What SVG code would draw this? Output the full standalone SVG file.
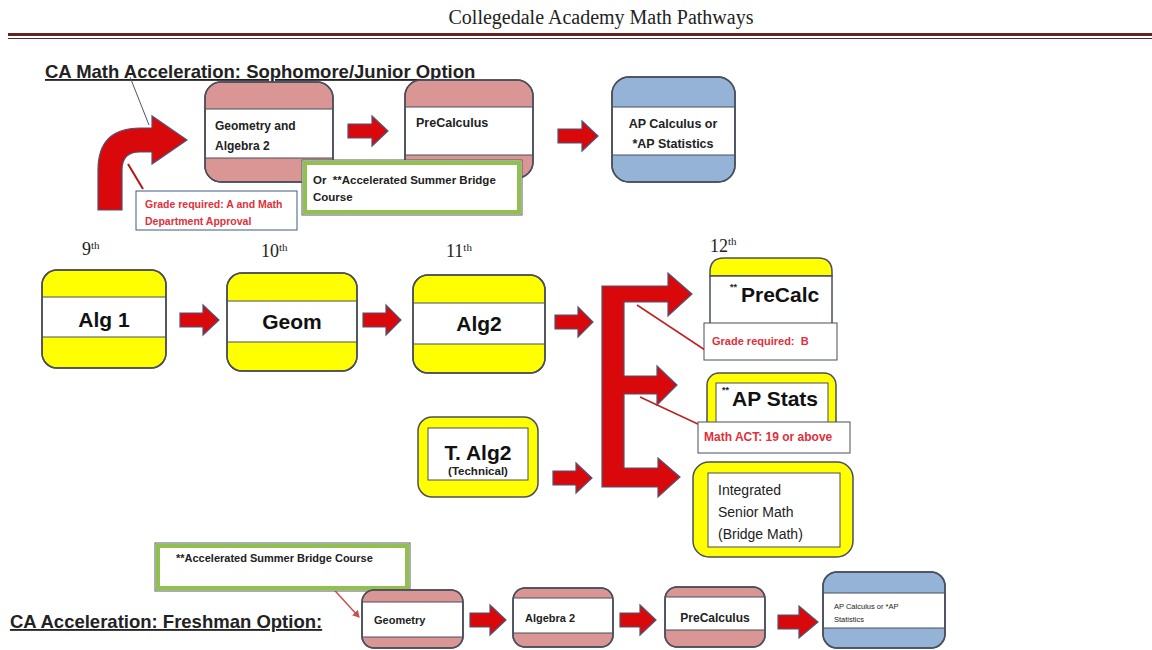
<svg xmlns="http://www.w3.org/2000/svg" width="1152" height="650" viewBox="0 0 1152 650">
<defs>
<style>
.bx{stroke:#4a4f5c;stroke-width:1.5}
.ln{stroke:#4a4f5c;stroke-width:1;fill:none}
.arr{fill:#d9090b;stroke:#4d5578;stroke-width:1.2}
.lbl{font-family:"Liberation Sans",Arial,sans-serif;font-weight:bold;fill:#222}
.big{font-family:"Liberation Sans",Arial,sans-serif;font-weight:bold;font-size:21px;fill:#111}
.red{font-family:"Liberation Sans",Arial,sans-serif;font-weight:bold;fill:#e0303a}
.grade{font-family:"Liberation Serif","Times New Roman",serif;font-size:18px;fill:#222}
.hdr{font-family:"Liberation Sans",Arial,sans-serif;font-weight:bold;font-size:18.5px;fill:#222;text-decoration:underline}
</style>
<marker id="mk" markerWidth="8" markerHeight="8" refX="6" refY="4" orient="auto" markerUnits="userSpaceOnUse"><path d="M0,0 L7,4 L0,8 Z" fill="#c85050"/></marker>
</defs>
<rect width="1152" height="650" fill="#fff"/>

<text x="601" y="24" text-anchor="middle" font-family="Liberation Serif, serif" font-size="20" fill="#222">Collegedale Academy Math Pathways</text>
<rect x="8" y="33" width="1144" height="3" fill="#622423"/>
<rect x="8" y="38" width="1144" height="1" fill="#622423"/>

<text class="hdr" x="45" y="78">CA Math Acceleration: Sophomore/Junior Option</text>
<text class="hdr" x="10" y="628">CA Acceleration: Freshman Option:</text>

<text class="grade" x="82" y="255">9<tspan font-size="11" dy="-6">th</tspan></text>
<text class="grade" x="261" y="257">10<tspan font-size="11" dy="-6">th</tspan></text>
<text class="grade" x="446" y="257">11<tspan font-size="11" dy="-6">th</tspan></text>
<text class="grade" x="710" y="252" font-size="20">12<tspan font-size="11" dy="-7">th</tspan></text>

<g id="connectors">
<path class="arr" d="M98,210 L98,170 Q98,128 140,128 L152,128 L152,116 L187,140 L152,164 L152,152 L140,152 Q122,152 122,170 L122,210 Z"/>
<polygon class="arr" points="348,124 372,124 372,116 388,131 372,146 372,138 348,138"/>
<polygon class="arr" points="558,129 582,129 582,121 598,136 582,151 582,143 558,143"/>
<polygon class="arr" points="180,313 203,313 203,305 219,320 203,335 203,327 180,327"/>
<polygon class="arr" points="363,313 386,313 386,305 401,320 386,335 386,327 363,327"/>
<polygon class="arr" points="555,315 578,315 578,307 593,322 578,337 578,329 555,329"/>
<polygon class="arr" points="553,471 576,471 576,463 592,478 576,493 576,485 553,485"/>
<path class="arr" d="M602,286 L668,286 L668,273 L692,294 L668,316 L668,302 L624,302 L624,376 L657,376 L657,366 L677,385 L657,405 L657,394 L624,394 L624,468 L658,468 L658,458 L680,477 L658,497 L658,487 L602,487 Z"/>
<polygon class="arr" points="470,613 490,613 490,605 506,620 490,635 490,627 470,627"/>
<polygon class="arr" points="620,613 640,613 640,605 656,620 640,635 640,627 620,627"/>
<polygon class="arr" points="778,615 799,615 799,606 818,622 799,638 799,629 778,629"/>
<line x1="130" y1="77" x2="149" y2="125" stroke="#555" stroke-width="1"/>
<line x1="128" y1="164" x2="143" y2="189" stroke="#b01818" stroke-width="2"/>
<line x1="637" y1="305" x2="705" y2="350" stroke="#c02020" stroke-width="1.5"/>
<line x1="640" y1="397" x2="700" y2="425" stroke="#c02020" stroke-width="1.5"/>
<line x1="327" y1="582" x2="359" y2="617" stroke="#c85050" stroke-width="1.5" marker-end="url(#mk)"/>
</g>

<g id="n-geomalg2">
<rect class="bx" x="205" y="82" width="128" height="100" rx="16" fill="#d99694"/>
<rect x="206" y="109" width="126" height="49" fill="#fff"/>
<line class="ln" x1="205" y1="109" x2="333" y2="109"/><line class="ln" x1="205" y1="158" x2="333" y2="158"/>
<rect x="205" y="82" width="128" height="100" rx="16" fill="none" class="bx"/>
<text class="lbl" x="215" y="130" font-size="12">Geometry and</text>
<text class="lbl" x="215" y="150" font-size="12">Algebra 2</text>
</g>

<g id="n-precalc-top">
<rect class="bx" x="405" y="80" width="128" height="98" rx="16" fill="#d99694"/>
<rect x="406" y="107" width="126" height="48" fill="#fff"/>
<line class="ln" x1="405" y1="107" x2="533" y2="107"/><line class="ln" x1="405" y1="155" x2="533" y2="155"/>
<rect x="405" y="80" width="128" height="98" rx="16" fill="none" class="bx"/>
<text class="lbl" x="416" y="127" font-size="12.5">PreCalculus</text>
</g>

<g id="n-apcalc-top">
<rect class="bx" x="612" y="77" width="123" height="105" rx="17" fill="#95b3d7"/>
<rect x="613" y="107" width="121" height="48" fill="#fff"/>
<line class="ln" x1="612" y1="107" x2="735" y2="107"/><line class="ln" x1="612" y1="155" x2="735" y2="155"/>
<rect x="612" y="77" width="123" height="105" rx="17" fill="none" class="bx"/>
<text class="lbl" x="673" y="128" font-size="12.5" text-anchor="middle">AP Calculus or</text>
<text class="lbl" x="673" y="148" font-size="12.5" text-anchor="middle">*AP Statistics</text>
</g>

<g id="n-bridge-top">
<rect x="302" y="160" width="220" height="55" fill="#fff" stroke="#55604a" stroke-width="1"/>
<rect x="305" y="163" width="214" height="49" fill="none" stroke="#92c050" stroke-width="4"/>
<text class="lbl" x="313" y="184" font-size="11.5" xml:space="preserve">Or  **Accelerated Summer Bridge</text>
<text class="lbl" x="313" y="201" font-size="11.5">Course</text>
</g>

<g id="n-grade-a">
<rect x="136" y="191" width="161" height="39" fill="#fff" stroke="#3f5a80" stroke-width="1"/>
<text class="red" x="145" y="208" font-size="10.5">Grade required: A and Math</text>
<text class="red" x="145" y="225" font-size="10.5">Department Approval</text>
</g>

<g id="n-alg1">
<rect class="bx" x="42" y="270" width="124" height="98" rx="15" fill="#ffff00"/>
<rect x="43" y="297" width="122" height="40" fill="#fff"/>
<line class="ln" x1="42" y1="297" x2="166" y2="297"/><line class="ln" x1="42" y1="337" x2="166" y2="337"/>
<rect x="42" y="270" width="124" height="98" rx="15" fill="none" class="bx"/>
<text class="big" x="104" y="327" text-anchor="middle">Alg 1</text>
</g>

<g id="n-geom">
<rect class="bx" x="227" y="273" width="130" height="98" rx="15" fill="#ffff00"/>
<rect x="228" y="301" width="128" height="41" fill="#fff"/>
<line class="ln" x1="227" y1="301" x2="357" y2="301"/><line class="ln" x1="227" y1="342" x2="357" y2="342"/>
<rect x="227" y="273" width="130" height="98" rx="15" fill="none" class="bx"/>
<text class="big" x="292" y="329" text-anchor="middle">Geom</text>
</g>

<g id="n-alg2">
<rect class="bx" x="413" y="275" width="132" height="98" rx="15" fill="#ffff00"/>
<rect x="414" y="303" width="130" height="41" fill="#fff"/>
<line class="ln" x1="413" y1="303" x2="545" y2="303"/><line class="ln" x1="413" y1="344" x2="545" y2="344"/>
<rect x="413" y="275" width="132" height="98" rx="15" fill="none" class="bx"/>
<text class="big" x="479" y="331" text-anchor="middle">Alg2</text>
</g>

<g id="n-talg2">
<rect class="bx" x="418" y="417" width="120" height="80" rx="14" fill="#ffff00"/>
<rect x="428" y="428" width="100" height="52" fill="#fff" stroke="#4a4f5c" stroke-width="1"/>
<text class="big" x="478" y="460" text-anchor="middle">T. Alg2</text>
<text class="lbl" x="478" y="475" font-size="11.5" text-anchor="middle">(Technical)</text>
</g>

<g id="n-precalc12">
<path d="M710,276 L710,272 Q710,258 724,258 L818,258 Q832,258 832,272 L832,276 Z" fill="#ffff00" stroke="#4a4f5c" stroke-width="1.5"/>
<rect x="710" y="276" width="122" height="60" fill="#fff" stroke="#4a4f5c" stroke-width="1.5"/>
<text class="lbl" x="730" y="290" font-size="9">**</text>
<text class="big" x="741" y="302" fill="#111">PreCalc</text>
</g>

<g id="n-grade-b">
<rect x="704" y="323" width="133" height="37" fill="#fff" stroke="#4a4f5c" stroke-width="1"/>
<text class="red" x="712" y="345" font-size="11" xml:space="preserve">Grade required:  B</text>
</g>

<g id="n-apstats">
<rect class="bx" x="707" y="373" width="129" height="70" rx="12" fill="#ffff00"/>
<rect x="716" y="383" width="112" height="55" fill="#fff" stroke="#4a4f5c" stroke-width="1"/>
<text class="lbl" x="722" y="393" font-size="9">**</text>
<text class="big" x="732" y="406">AP Stats</text>
</g>

<g id="n-mathact">
<rect x="698" y="422" width="152" height="31" fill="#fff" stroke="#4a4f5c" stroke-width="1"/>
<text class="red" x="704" y="441" font-size="12">Math ACT: 19 or above</text>
</g>

<g id="n-integrated">
<rect class="bx" x="693" y="462" width="160" height="95" rx="16" fill="#ffff00"/>
<rect x="708" y="473" width="132" height="74" fill="#fff" stroke="#4a4f5c" stroke-width="1"/>
<text x="718" y="495" font-family="Liberation Sans, Arial, sans-serif" font-size="14" fill="#222">Integrated</text>
<text x="718" y="517" font-family="Liberation Sans, Arial, sans-serif" font-size="14" fill="#222">Senior Math</text>
<text x="718" y="539" font-family="Liberation Sans, Arial, sans-serif" font-size="14" fill="#222">(Bridge Math)</text>
</g>

<g id="n-bridge-bottom">
<rect x="155" y="543" width="255" height="48" fill="#fff" stroke="#55604a" stroke-width="1"/>
<rect x="158" y="546" width="249" height="42" fill="none" stroke="#92c050" stroke-width="4"/>
<text class="lbl" x="176" y="562" font-size="11">**Accelerated Summer Bridge Course</text>
</g>

<g id="n-geometry-bottom">
<rect class="bx" x="362" y="590" width="101" height="58" rx="12" fill="#d99694"/>
<rect x="363" y="602" width="99" height="35" fill="#fff"/>
<line class="ln" x1="362" y1="602" x2="463" y2="602"/><line class="ln" x1="362" y1="637" x2="463" y2="637"/>
<rect x="362" y="590" width="101" height="58" rx="12" fill="none" class="bx"/>
<text class="lbl" x="374" y="624" font-size="11">Geometry</text>
</g>

<g id="n-algebra2-bottom">
<rect class="bx" x="513" y="588" width="100" height="59" rx="12" fill="#d99694"/>
<rect x="514" y="598" width="98" height="35" fill="#fff"/>
<line class="ln" x1="513" y1="598" x2="613" y2="598"/><line class="ln" x1="513" y1="633" x2="613" y2="633"/>
<rect x="513" y="588" width="100" height="59" rx="12" fill="none" class="bx"/>
<text class="lbl" x="525" y="622" font-size="11">Algebra 2</text>
</g>

<g id="n-precalc-bottom">
<rect class="bx" x="665" y="587" width="100" height="60" rx="12" fill="#d99694"/>
<rect x="666" y="597" width="98" height="33" fill="#fff"/>
<line class="ln" x1="665" y1="597" x2="765" y2="597"/><line class="ln" x1="665" y1="630" x2="765" y2="630"/>
<rect x="665" y="587" width="100" height="60" rx="12" fill="none" class="bx"/>
<text class="lbl" x="715" y="622" font-size="12" text-anchor="middle">PreCalculus</text>
</g>

<g id="n-apcalc-bottom">
<rect class="bx" x="823" y="572" width="122" height="76" rx="14" fill="#95b3d7"/>
<rect x="824" y="593" width="120" height="35" fill="#fff"/>
<line class="ln" x1="823" y1="593" x2="945" y2="593"/><line class="ln" x1="823" y1="628" x2="945" y2="628"/>
<rect x="823" y="572" width="122" height="76" rx="14" fill="none" class="bx"/>
<text x="834" y="609" font-family="Liberation Sans, Arial, sans-serif" font-size="7.5" fill="#222">AP Calculus or *AP</text>
<text x="834" y="622" font-family="Liberation Sans, Arial, sans-serif" font-size="7.5" fill="#222">Statistics</text>
</g>
</svg>
